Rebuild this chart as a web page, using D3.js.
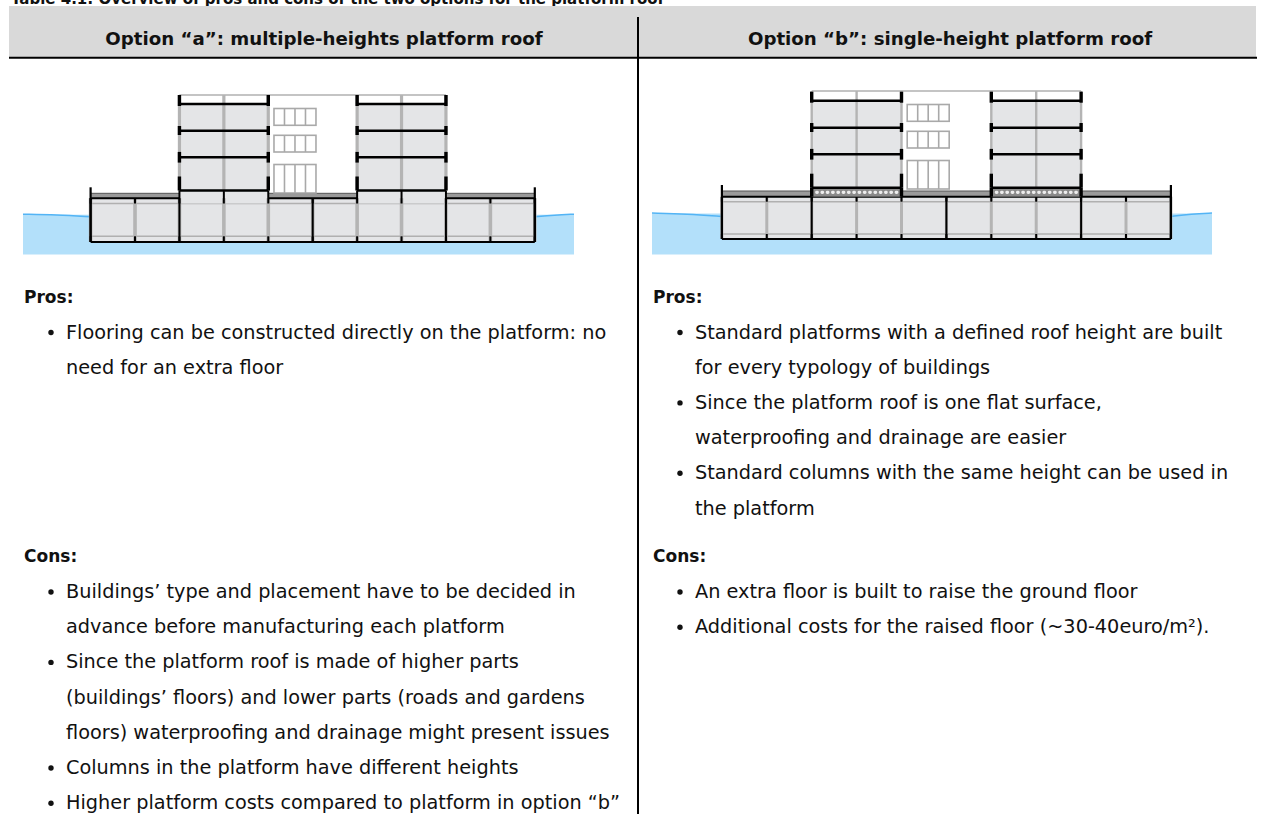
<!DOCTYPE html>
<html>

<head>
    <meta charset="utf-8">
    <script src="https://d3js.org/d3.v7.min.js"></script>
    <style>
        html, body { margin: 0; padding: 0; background: white; overflow: hidden; }
        text { font-family: "DejaVu Sans", sans-serif; fill: #111; }
    </style>
</head>

<body>
    <div id="viz"></div>

    <script>
        // table text
        var caption = "Table 4.1: Overview of pros and cons of the two options for the platform roof"
        var headers = ["Option “a”: multiple-heights platform roof", "Option “b”: single-height platform roof"]
        var prosLabel = "Pros:"
        var consLabel = "Cons:"

        // [bullet?, text] one entry per printed line
        var prosA = [
            [1, "Flooring can be constructed directly on the platform: no"],
            [0, "need for an extra floor"]
        ]
        var consA = [
            [1, "Buildings’ type and placement have to be decided in"],
            [0, "advance before manufacturing each platform"],
            [1, "Since the platform roof is made of higher parts"],
            [0, "(buildings’ floors) and lower parts (roads and gardens"],
            [0, "floors) waterproofing and drainage might present issues"],
            [1, "Columns in the platform have different heights"],
            [1, "Higher platform costs compared to platform in option “b”"]
        ]
        var prosB = [
            [1, "Standard platforms with a defined roof height are built"],
            [0, "for every typology of buildings"],
            [1, "Since the platform roof is one flat surface,"],
            [0, "waterproofing and drainage are easier"],
            [1, "Standard columns with the same height can be used in"],
            [0, "the platform"]
        ]
        var consB = [
            [1, "An extra floor is built to raise the ground floor"],
            [1, "Additional costs for the raised floor (~30-40euro/m²)."]
        ]

        // section drawing, in structural bays
        var gridLines = d3.range(0, 11)
        var blackFull = [0, 2, 5, 8, 10]
        var towerBays = [[2, 4], [6, 8]]
        var towerLines = [2, 3, 4, 6, 7, 8]
        var openBays = [[0, 2], [4, 6], [8, 10]]
        var allBays = [[0, 10]]
        var stubOffsets = [[-9, 2], [-4.7, 4.3], [-5.4, 5.3], [-14, 0]]
        var paneRows = [[13.5, 30.3], [40.3, 57], [69.5, 98]]
        var paneCuts = [1, 2, 3]

        var width = 1262, height = 814

        // pixel levels of each section
        var levelsA = { roof: 95, floors: [104, 130.7, 157.3, 190.5], deckTop: 193.3, deck: 198.2, inner: 203.5, low: 236.3, bottom: 242 }
        var levelsB = { roof: 91, floors: [100.7, 127.7, 154.3, 187.7], deckTop: 191, deck: 196.7, inner: 201.7, low: 234, bottom: 239 }

        var svg = d3.select("#viz")
            .append("svg")
            .attr("width", width)
            .attr("height", height)

        var defs = svg.append("defs")
        defs.append("filter").attr("id", "soft")
            .append("feGaussianBlur").attr("stdDeviation", 0.5)

        // caption sits behind the header band and is cropped by the page top
        svg.append("text").text(caption).attr("x", 11).attr("y", 3.5).attr("font-size", 15).attr("font-weight", "bold")

        // table frame
        svg.append("rect").attr("x", 9).attr("y", 6).attr("width", 1247).attr("height", 51).attr("fill", "#d9d9d9")
        svg.append("line").attr("x1", 9).attr("x2", 1257).attr("y1", 57.7).attr("y2", 57.7).attr("stroke", "#000").attr("stroke-width", 2)
        svg.append("line").attr("x1", 638).attr("x2", 638).attr("y1", 17).attr("y2", 814).attr("stroke", "#000").attr("stroke-width", 2)

        svg.selectAll(".head").data(headers).enter().append("text")
            .attr("class", "head")
            .attr("x", function (d, i) { return [324, 950][i] })
            .attr("y", 45)
            .attr("text-anchor", "middle")
            .attr("font-size", 18.2)
            .attr("font-weight", "bold")
            .text(function (d) { return d })

        function section(x0, x1, waterX0, waterX1, lv, hatch, waterEdge) {
            var g = svg.append("g").attr("filter", "url(#soft)")
            var x = d3.scaleLinear().domain([0, 10]).range([x0, x1])
            var line = d3.line().curve(d3.curveBasis)
            var deckBays = hatch ? allBays : openBays

            // water
            var wy = d3.scaleLinear().domain([0, 1]).range(waterEdge)
            var xl = d3.scaleLinear().domain([0, 1]).range([waterX0, x0])
            var xr = d3.scaleLinear().domain([0, 1]).range([x1, waterX1])
            g.append("rect").attr("x", waterX0).attr("y", wy(0) + 0.5).attr("width", waterX1 - waterX0).attr("height", 254.5 - wy(0) - 0.5).attr("fill", "#b3e0fa")
            g.append("path").attr("d", line([[xl(0), wy(0)], [xl(0.5), wy(0.25)], [xl(1), wy(1)]]))
                .attr("fill", "none").attr("stroke", "#52b4f5").attr("stroke-width", 1.5)
            g.append("path").attr("d", line([[xr(0), wy(1)], [xr(0.5), wy(0.3)], [xr(1), wy(0)]]))
                .attr("fill", "none").attr("stroke", "#52b4f5").attr("stroke-width", 1.5)

            // platform body
            g.append("rect").attr("x", x(0)).attr("y", lv.deck).attr("width", x(10) - x(0)).attr("height", lv.bottom - lv.deck).attr("fill", "#e4e5e7")

            // grey roof band over the open bays
            deckBays.forEach(function (b) {
                g.append("rect").attr("x", x(b[0])).attr("y", lv.deckTop).attr("width", x(b[1]) - x(b[0])).attr("height", lv.deck - lv.deckTop).attr("fill", "#9a9a9a")
                g.append("line").attr("x1", x(b[0])).attr("x2", x(b[1])).attr("y1", lv.deckTop).attr("y2", lv.deckTop).attr("stroke", "#555").attr("stroke-width", 1)
            })

            // platform inner lines
            ;[lv.inner, lv.low].forEach(function (y) {
                g.append("line").attr("x1", x(0)).attr("x2", x(10)).attr("y1", y).attr("y2", y).attr("stroke", "#b0b0b0").attr("stroke-width", 1.5)
            })

            // tower rooms
            towerBays.forEach(function (b) {
                g.append("rect").attr("x", x(b[0])).attr("y", lv.floors[0]).attr("width", x(b[1]) - x(b[0])).attr("height", lv.floors[3] - lv.floors[0]).attr("fill", "#e4e5e7")
                if (!hatch) g.append("rect").attr("x", x(b[0])).attr("y", lv.floors[3]).attr("width", x(b[1]) - x(b[0])).attr("height", lv.inner - lv.floors[3]).attr("fill", "#e4e5e7")
            })

            // roof outline (thin grey)
            g.append("line").attr("x1", x(2)).attr("x2", x(8)).attr("y1", lv.roof).attr("y2", lv.roof).attr("stroke", "#b0b0b0").attr("stroke-width", 1.3)

            // grey columns in platform and tower
            g.selectAll(".pc").data(gridLines).enter().append("line")
                .attr("x1", x).attr("x2", x)
                .attr("y1", lv.deck).attr("y2", lv.bottom)
                .attr("stroke", "#b4b4b4").attr("stroke-width", hatch ? 3 : 3.6)
            towerLines.forEach(function (c) {
                g.append("line").attr("x1", x(c)).attr("x2", x(c)).attr("y1", lv.roof).attr("y2", lv.floors[3])
                    .attr("stroke", "#b4b4b4").attr("stroke-width", hatch ? 2.4 : 3.2)
            })

            // full height black columns
            g.selectAll(".fc").data(blackFull).enter().append("line")
                .attr("x1", x).attr("x2", x)
                .attr("y1", lv.deck).attr("y2", lv.bottom)
                .attr("stroke", "#000").attr("stroke-width", 2)

            // short stubs at the head and foot of the other columns
            gridLines.forEach(function (c) {
                var inTower = towerLines.indexOf(c) >= 0
                var top = (!hatch && inTower) ? lv.floors[3] : lv.deck
                g.append("line").attr("x1", x(c)).attr("x2", x(c)).attr("y1", top).attr("y2", lv.inner).attr("stroke", "#000").attr("stroke-width", 2)
                g.append("line").attr("x1", x(c)).attr("x2", x(c)).attr("y1", lv.low).attr("y2", lv.bottom).attr("stroke", "#000").attr("stroke-width", 2)
            })

            // deck and floor slabs
            g.append("line").attr("x1", x(0)).attr("x2", x(10)).attr("y1", lv.bottom).attr("y2", lv.bottom).attr("stroke", "#000").attr("stroke-width", 2.2)
            deckBays.forEach(function (b) {
                g.append("line").attr("x1", x(b[0])).attr("x2", x(b[1])).attr("y1", lv.deck).attr("y2", lv.deck).attr("stroke", "#000").attr("stroke-width", 2)
            })

            // option b: raised floor pedestals
            if (hatch) {
                towerBays.forEach(function (b) {
                    g.append("rect").attr("x", x(b[0])).attr("y", lv.floors[3]).attr("width", x(b[1]) - x(b[0])).attr("height", lv.deck - lv.floors[3]).attr("fill", "#8a8a8a")
                    g.selectAll(null).data(d3.range(0, 16)).enter().append("rect")
                        .attr("x", function (d) { return x(b[0]) + 3.5 + d * 5.3 })
                        .attr("y", lv.floors[3] + 3).attr("width", 3.6).attr("height", 3.2).attr("rx", 1.4)
                        .attr("fill", "#ededed")
                    b.forEach(function (c) {
                        g.append("line").attr("x1", x(c)).attr("x2", x(c)).attr("y1", lv.floors[3]).attr("y2", lv.deck).attr("stroke", "#000").attr("stroke-width", 3.4)
                    })
                })
            }

            towerBays.forEach(function (b) {
                lv.floors.forEach(function (y, i) {
                    g.append("line").attr("x1", x(b[0])).attr("x2", x(b[1])).attr("y1", y).attr("y2", y).attr("stroke", "#000").attr("stroke-width", 2.4)
                    // thick stubs where slabs meet the facade
                    b.forEach(function (c) {
                        g.append("line").attr("x1", x(c)).attr("x2", x(c))
                            .attr("y1", y + stubOffsets[i][0]).attr("y2", y + stubOffsets[i][1])
                            .attr("stroke", "#000").attr("stroke-width", 3.4)
                    })
                })
            })

            // end parapets
            ;[0, 10].forEach(function (c) {
                g.append("line").attr("x1", x(c)).attr("x2", x(c)).attr("y1", lv.deckTop - 6).attr("y2", lv.bottom).attr("stroke", "#000").attr("stroke-width", 2.2)
            })

            // windows in the core
            var wx = d3.scaleLinear().domain([0, 4]).range([x(4) + 5.7, x(4) + 47.7])
            paneRows.forEach(function (r) {
                var top = lv.roof + r[0], bot = lv.roof + r[1]
                g.append("rect").attr("x", wx(0)).attr("y", top).attr("width", wx(4) - wx(0)).attr("height", bot - top)
                    .attr("fill", "white").attr("stroke", "#a9a9a9").attr("stroke-width", 1.6)
                paneCuts.forEach(function (c) {
                    g.append("line").attr("x1", wx(c)).attr("x2", wx(c)).attr("y1", top).attr("y2", bot).attr("stroke", "#a9a9a9").attr("stroke-width", 1.6)
                })
            })
        }

        section(90.6, 534.8, 23, 574, levelsA, false, [214.2, 216.8])
        section(721.9, 1170.9, 652, 1212, levelsB, true, [213, 216.5])

        // body text
        function block(x, y, label, lines) {
            svg.append("text").text(label).attr("x", x).attr("y", y).attr("font-size", 17).attr("font-weight", "bold")
            var yLine = d3.scaleLinear().domain([0, 1]).range([y + 36, y + 71.2])
            lines.forEach(function (d, i) {
                if (d[0]) svg.append("circle").attr("cx", x + 27).attr("cy", yLine(i) - 6).attr("r", 2.7).attr("fill", "#111")
                svg.append("text").text(d[1]).attr("x", x + 42).attr("y", yLine(i)).attr("font-size", 19.3)
            })
        }

        block(24, 302.5, prosLabel, prosA)
        block(24, 562, consLabel, consA)
        block(653, 302.5, prosLabel, prosB)
        block(653, 562, consLabel, consB)
    </script>
</body>

</html>
